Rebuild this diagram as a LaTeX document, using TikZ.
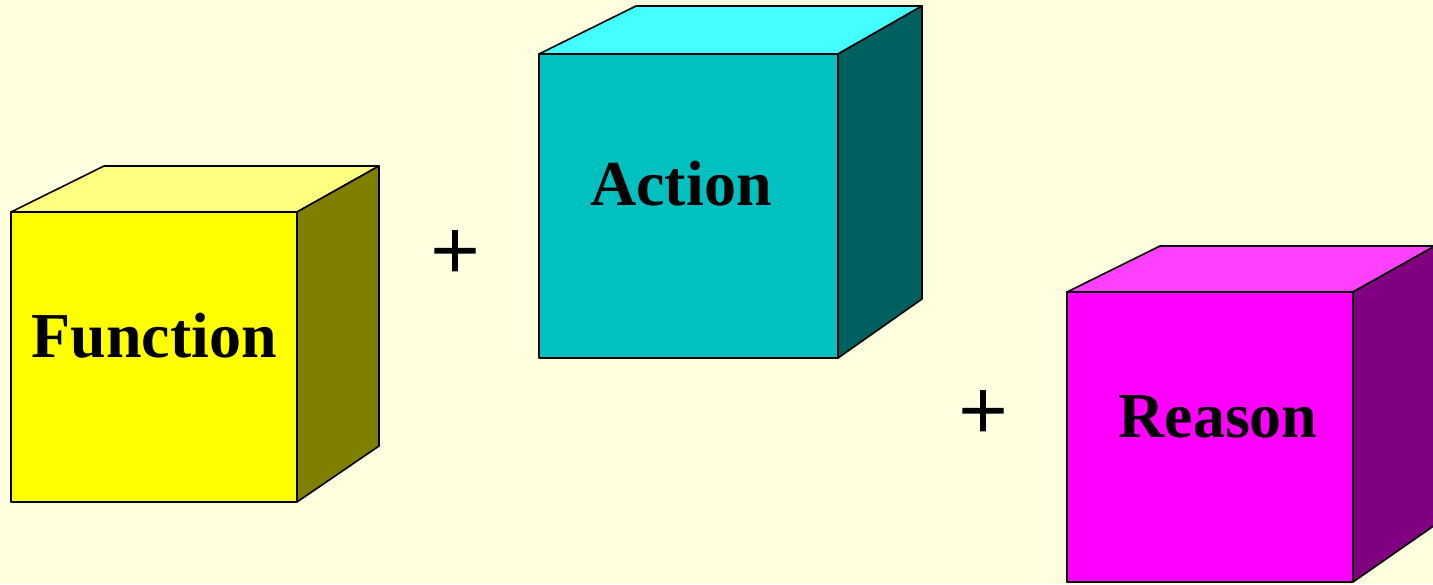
\documentclass[tikz,border=0pt]{standalone}
\usepackage{fontspec}
\setmainfont{Liberation Serif}
\newfontfamily\plusfont[FakeBold=1.6]{Liberation Serif}
\definecolor{paper}{RGB}{255,255,224}
\definecolor{funfront}{RGB}{255,255,0}
\definecolor{funtop}{RGB}{255,255,128}
\definecolor{funside}{RGB}{128,128,0}
\definecolor{actfront}{RGB}{0,192,192}
\definecolor{acttop}{RGB}{68,255,255}
\definecolor{actside}{RGB}{0,96,96}
\definecolor{reafront}{RGB}{255,0,255}
\definecolor{reatop}{RGB}{255,64,255}
\definecolor{reaside}{RGB}{128,0,128}
\tikzset{
  facet/.style={draw=black,line width=1.6pt,line join=round},
  facetext/.style={anchor=base,inner sep=0pt,font=\fontsize{64}{64}\selectfont\bfseries},
  plussign/.style={inner sep=0pt,font=\plusfont\fontsize{86}{86}\selectfont}
}
\begin{document}
\begin{tikzpicture}[x=1pt,y=-1pt]
  \fill[paper] (0,0) rectangle (1433,584);
  \useasboundingbox (0,0) rectangle (1433,584);
  % function cube
  \coordinate (fa) at (11,212);
  \coordinate (fb) at (297,212);
  \coordinate (fc) at (297,502);
  \coordinate (fd) at (11,502);
  \coordinate (fe) at (104,166);
  \coordinate (ff) at (379,166);
  \coordinate (fg) at (379,446);
  \filldraw[facet,fill=funtop] (fa) -- (fe) -- (ff) -- (fb) -- cycle;
  \filldraw[facet,fill=funside] (fb) -- (ff) -- (fg) -- (fc) -- cycle;
  \filldraw[facet,fill=funfront] (fa) -- (fb) -- (fc) -- (fd) -- cycle;
  \node[facetext] (function) at (154,357) {Function};
  % action cube
  \coordinate (aa) at (539,54);
  \coordinate (ab) at (838,54);
  \coordinate (ac) at (838,358);
  \coordinate (ad) at (539,358);
  \coordinate (ae) at (636,6);
  \coordinate (af) at (922,6);
  \coordinate (ag) at (922,299);
  \filldraw[facet,fill=acttop] (aa) -- (ae) -- (af) -- (ab) -- cycle;
  \filldraw[facet,fill=actside] (ab) -- (af) -- (ag) -- (ac) -- cycle;
  \filldraw[facet,fill=actfront] (aa) -- (ab) -- (ac) -- (ad) -- cycle;
  \node[facetext] (action) at (681,205) {Action};
  % reason cube
  \coordinate (ra) at (1067,292);
  \coordinate (rb) at (1353,292);
  \coordinate (rc) at (1353,582);
  \coordinate (rd) at (1067,582);
  \coordinate (re) at (1160,246);
  \coordinate (rf) at (1435,246);
  \coordinate (rg) at (1435,525);
  \filldraw[facet,fill=reatop] (ra) -- (re) -- (rf) -- (rb) -- cycle;
  \filldraw[facet,fill=reaside] (rb) -- (rf) -- (rg) -- (rc) -- cycle;
  \filldraw[facet,fill=reafront] (ra) -- (rb) -- (rc) -- (rd) -- cycle;
  \node[facetext] (reason) at (1218,437) {Reason};
  % plus signs
  \node[plussign] (plusone) at (455,255) {+};
  \node[plussign] (plustwo) at (983,415) {+};
\end{tikzpicture}
\end{document}
